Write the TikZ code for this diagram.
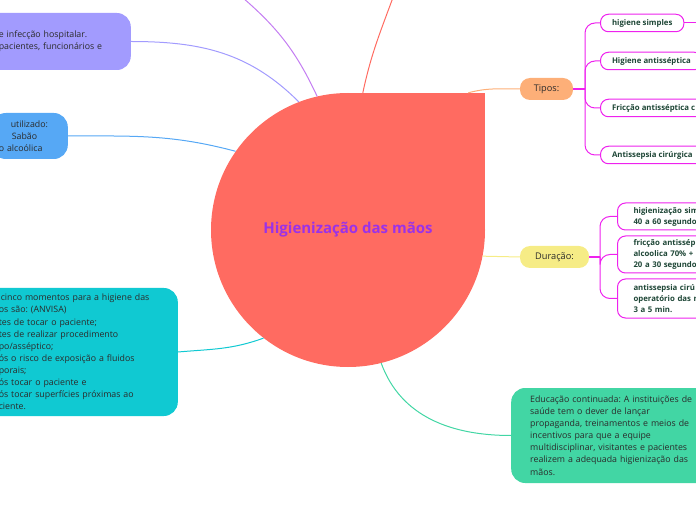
\documentclass[tikz,border=0pt]{standalone}
\usepackage{fontspec}
\setmainfont{Open Sans}
\usepackage{xcolor}
\definecolor{salmao}{HTML}{FF6B61}
\definecolor{lilas}{HTML}{A29BFE}
\definecolor{azul}{HTML}{56A8F5}
\definecolor{ciano}{HTML}{10C9D2}
\definecolor{verdeagua}{HTML}{42D6A4}
\definecolor{laranja}{HTML}{FDAF78}
\definecolor{amarelo}{HTML}{F6EC86}
\definecolor{rosa}{HTML}{EE22EE}
\definecolor{roxo}{HTML}{C47EF2}
\definecolor{titulo}{HTML}{9A32E8}
\definecolor{texto}{HTML}{2B2B2B}
\definecolor{verdeesc}{HTML}{1E4636}
\usepackage{tikz}
\frenchspacing

\begin{document}
\begin{tikzpicture}[x=1pt,y=1pt,
 ramo/.style={rounded corners=14pt,text=texto,align=left,font=\fontsize{8.8}{12.1}\selectfont},
 rotulo/.style={rounded corners=10pt,text=texto,minimum height=22pt,inner sep=0pt,font=\fontsize{9.2}{11}\selectfont},
 folha/.style={draw=rosa,line width=1pt,fill=white,rounded corners=8pt,anchor=west,align=left,
 text=verdeesc,font=\fontsize{7.8}{11}\selectfont\bfseries,inner xsep=11.5pt,inner ysep=0pt},
 lig/.style={line width=1pt},
 chave/.style={draw=rosa,line width=1pt,rounded corners=10pt}]
 \useasboundingbox (0,0) rectangle (696,520);
 \clip (0,0) rectangle (696,520);
 \node[fill=salmao,minimum size=137pt,inner sep=0pt] (canto) at (416.5,358.5) {};
 \node[circle,fill=salmao,minimum size=274pt,inner sep=0pt,text=titulo,
 font=\fontsize{15}{18}\selectfont\bfseries] (hig) at (348,290) {Higienização das mãos};
 \node[ramo,fill=lilas,text width=110pt,inner xsep=22pt,minimum height=57pt,anchor=east] (objetivo) at (131,478.5)
 {e infecção hospitalar.\\pacientes, funcionários e};
 \node[ramo,fill=azul,text width=62pt,inner xsep=7pt,minimum height=46pt,anchor=east] (material) at (68,384)
 {\hspace*{12pt}utilizado:\\\hspace*{13pt}Sabão\\o alcoólica};
 \node[ramo,fill=ciano,text width=160pt,inner xsep=19pt,minimum height=128pt,anchor=east] (momentos) at (178,168)
 {\hspace*{2pt}cinco momentos para a higiene das\\os são: (ANVISA)\\tes de tocar o paciente;\\tes de realizar procedimento\\
 po/asséptico;\\ós o risco de exposição a fluidos\\porais;\\ós tocar o paciente e\\ós tocar superfícies próximas ao\\ciente.};
 \node[ramo,fill=verdeagua,text width=180pt,inner xsep=19pt,minimum height=95pt,anchor=west] (educacao) at (511,84.5)
 {Educação continuada: A instituições de\\saúde tem o dever de lançar\\propaganda, treinamentos e meios de\\
 incentivos para que a equipe\\multidisciplinar, visitantes e pacientes\\realizem a adequada higienização das\\mãos.};
 \node[rotulo,fill=laranja,minimum width=53pt] (tipos) at (546.5,431) {Tipos:};
 \node[rotulo,fill=amarelo,minimum width=69pt] (duracao) at (554.5,263) {Duração:};
 \node[folha,minimum height=17.5pt] (simples) at (600,497) {higiene simples};
 \node[folha,minimum height=17.5pt] (antisseptica) at (600,459) {Higiene antisséptica};
 \node[folha,minimum height=17.5pt] (friccao) at (600,412) {Fricção antisséptica c};
 \node[folha,minimum height=17.5pt] (cirurgica) at (600,365) {Antissepsia cirúrgica};
 \node[folha,inner xsep=16pt,text width=85pt,minimum height=27pt] (dsimples) at (617,303.5)
 {higienização sim\\40 a 60 segundo};
 \node[folha,inner xsep=16pt,text width=85pt,minimum height=37pt] (dfriccao) at (617,265.5)
 {fricção antissép\\alcoolica 70\% +\\20 a 30 segundo};
 \node[folha,inner xsep=16pt,text width=85pt,minimum height=39pt] (dcirurgica) at (617,221.5)
 {antissepsia cirú\\operatório das m\\3 a 5 min.};
 \coordinate (roxo1) at (236,528);
 \coordinate (verm1) at (395,528);
 \coordinate (simples1) at (704,497);
 \coordinate (tchave) at (585,431);
 \coordinate (dchave) at (600,263);
 \draw[lig,roxo] (roxo1) to[out=-40,in=115] (hig.103);
 \draw[lig,salmao] (verm1) to[out=-110,in=78] (canto.128.5);
 \draw[lig,lilas] (objetivo.east) to[out=0,in=135] (hig.111.7);
 \draw[lig,azul] (material.east) to[out=0,in=165] (hig.145.4);
 \draw[lig,ciano] (momentos.east) to[out=5,in=200] (hig.232.5);
 \draw[lig,verdeagua] (hig.-76) to[out=-70,in=180] (educacao.west);
 \draw[lig,amarelo] (hig.-11) -- (duracao.west);
 \draw[lig,laranja] (canto.53.6) to[out=15,in=180] (tipos.west);
 \draw[rosa,line width=2pt] (tipos.east) -- (tchave);
 \draw[chave] (tchave) |- (simples.west);
 \draw[chave] (tchave) |- (antisseptica.west);
 \draw[chave] (tchave) |- (friccao.west);
 \draw[chave] (tchave) |- (cirurgica.west);
 \draw[lig,rosa] (simples.east) -- (simples1);
 \draw[rosa,line width=1.3pt] (duracao.east) -- (dchave);
 \draw[chave] (dchave) |- (dsimples.west);
 \draw[chave] (dchave) |- (dfriccao.west);
 \draw[chave] (dchave) |- (dcirurgica.west);
\end{tikzpicture}
\end{document}
